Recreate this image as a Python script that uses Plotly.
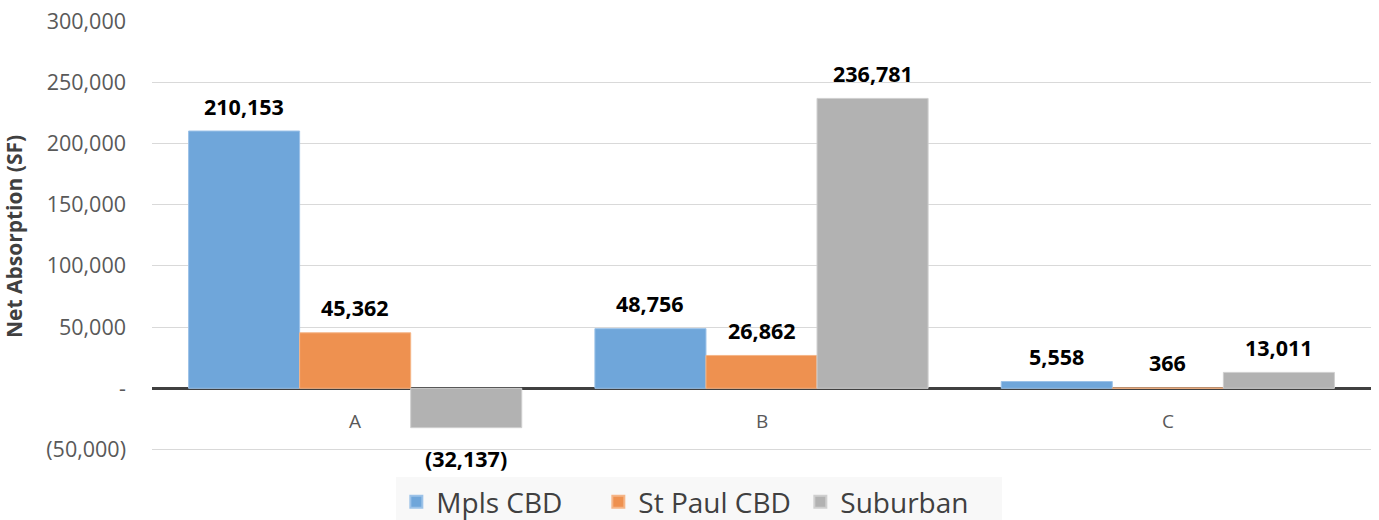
import plotly.graph_objects as go

categories = ["A", "B", "C"]
series_names = ["Mpls CBD", "St Paul CBD", "Suburban"]
mpls_cbd = [210153, 48756, 5558]
st_paul_cbd = [45362, 26862, 366]
suburban = [-32137, 236781, 13011]
y_tick_vals = [-50000, 0, 50000, 100000, 150000, 200000, 250000, 300000]
y_tick_text = ["(50,000)", "-", "50,000", "100,000", "150,000", "200,000", "250,000", "300,000"]

colors = ["#6fa6da", "#ee9150", "#b2b2b2"]
edge_colors = ["#9cc2e8", "#f5b587", "#cfcfcf"]
series_values = [mpls_cbd, st_paul_cbd, suburban]

bargap = 0.18
xpos = list(range(len(categories)))

fig = go.Figure()
for name, vals, c, ec in zip(series_names, series_values, colors, edge_colors):
    fig.add_trace(go.Bar(
        x=xpos, y=vals, name=name,
        marker=dict(color=c, line=dict(color=ec, width=1)),
        hoverinfo="skip",
    ))

def fmt(v):
    return f"({abs(v):,})" if v < 0 else f"{v:,}"

annotations = []
w = (1 - bargap) / len(series_names)
for j, vals in enumerate(series_values):
    for i, v in enumerate(vals):
        annotations.append(dict(
            x=i + (j - (len(series_names) - 1) / 2) * w, y=v,
            xref="x", yref="y", text=fmt(v), showarrow=False,
            yshift=25 if v >= 0 else -31, yanchor="middle",
            font=dict(family="Open Sans", size=21.5, color="#000000", weight="bold"),
        ))
for i, cat in enumerate(categories):
    annotations.append(dict(
        x=i, y=0, xref="x", yref="y", text=cat, showarrow=False,
        yshift=-33, yanchor="middle",
        font=dict(family="Open Sans", size=19, color="#595959"),
    ))

fig.update_layout(
    width=1379, height=520,
    margin=dict(l=152, r=8, t=21, b=68, autoexpand=False),
    paper_bgcolor="white", plot_bgcolor="white",
    barmode="group", bargap=bargap, bargroupgap=0,
    font=dict(family="Open Sans", color="#595959"),
    annotations=annotations,
    showlegend=True,
    legend=dict(
        orientation="h", x=0.449, xanchor="center", y=-0.058, yanchor="top",
        bgcolor="#f8f8f8", font=dict(family="Open Sans", size=28, color="#404040"),
        itemsizing="constant", traceorder="normal", itemwidth=30,
        entrywidth=157, entrywidthmode="pixels",
    ),
    xaxis=dict(
        range=[-0.5, 2.5], showticklabels=False, showgrid=False,
        zeroline=False, showline=False, ticks="",
    ),
    yaxis=dict(
        range=[-52000, 300000], tickvals=y_tick_vals, ticktext=y_tick_text,
        showgrid=True, gridcolor="#d9d9d9", gridwidth=1,
        zeroline=True, zerolinecolor="#404040", zerolinewidth=3,
        tickfont=dict(family="Open Sans", size=21.5, color="#595959"),
        ticks="", ticklen=0, ticklabelstandoff=25,
        title=dict(text="<b>Net Absorption (SF)</b>", standoff=20,
                   font=dict(family="Open Sans", size=21, color="#404040")),
    ),
)

fig.write_html("out.html")
